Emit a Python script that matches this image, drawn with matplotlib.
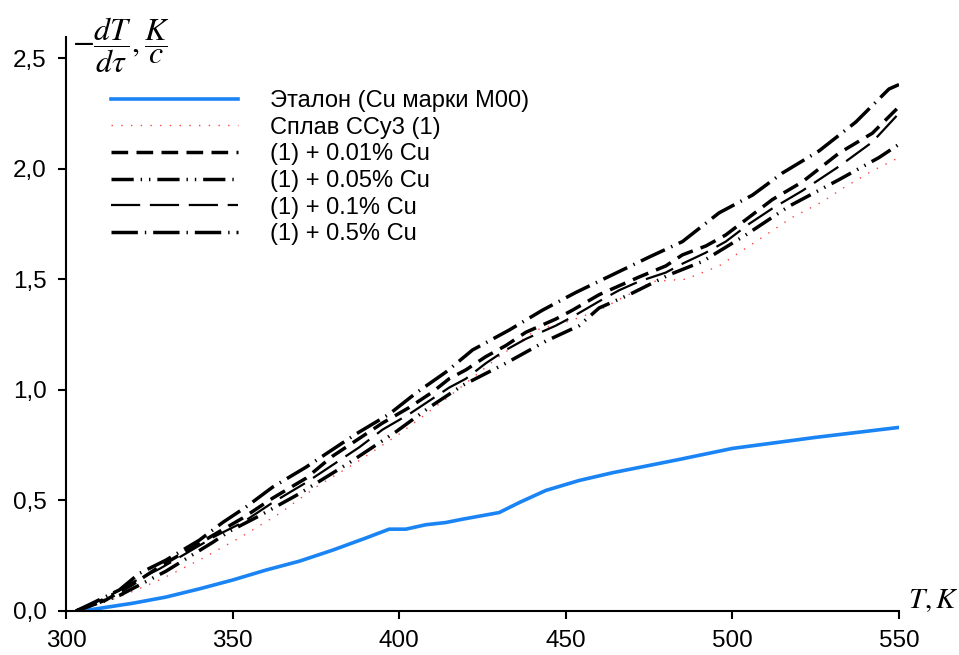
import numpy as np
import matplotlib
matplotlib.use("Agg")
import matplotlib.pyplot as plt

plt.rcParams['font.family'] = ['Liberation Sans', 'DejaVu Sans']
plt.rcParams['mathtext.fontset'] = 'stix'
plt.rcParams['lines.scale_dashes'] = False

# Эталон (Cu марки M00)
T_ref = [305, 310, 320, 330, 340, 350, 360, 370, 380, 390, 397, 402, 408, 414, 419,
         430, 436, 444, 454, 464, 474, 484, 500, 525, 550]
v_ref = [0.0, 0.012, 0.035, 0.063, 0.10, 0.14, 0.185, 0.225, 0.275, 0.33, 0.37, 0.37,
         0.39, 0.40, 0.415, 0.445, 0.49, 0.545, 0.59, 0.625, 0.655, 0.685, 0.735, 0.785, 0.83]

# Сплав ССу3 (1)
T_alloy = [303, 316, 328, 340, 352, 364, 375, 388, 400, 415, 430, 441, 451, 460, 470,
           476, 486, 496, 506, 512, 518, 527, 533, 542, 550]
v_alloy = [0.0, 0.063, 0.14, 0.23, 0.33, 0.44, 0.56, 0.68, 0.80, 0.97, 1.15, 1.27, 1.31,
           1.36, 1.44, 1.49, 1.50, 1.56, 1.66, 1.72, 1.78, 1.85, 1.91, 1.99, 2.05]

# (1) + 0.01% Cu
T_001 = [303, 312, 320, 328, 336, 345, 353, 362, 372, 380, 388, 395, 403, 410, 415, 420,
         426, 432, 438, 447, 452, 460, 466, 472, 480, 485, 492, 498, 505, 512, 521, 532,
         542, 550]
v_001 = [0.0, 0.05, 0.12, 0.20, 0.27, 0.35, 0.42, 0.51, 0.60, 0.70, 0.78, 0.85, 0.92,
         0.99, 1.05, 1.09, 1.15, 1.20, 1.26, 1.32, 1.36, 1.43, 1.47, 1.51, 1.56, 1.61,
         1.65, 1.70, 1.78, 1.86, 1.94, 2.07, 2.16, 2.28]

# (1) + 0.05% Cu
T_005 = [303, 316, 330, 344, 349, 358, 370, 385, 399, 409, 419, 432, 444, 454, 460, 469,
         481, 491, 504, 517, 532, 544, 550]
v_005 = [0.0, 0.07, 0.18, 0.31, 0.36, 0.43, 0.53, 0.67, 0.81, 0.92, 1.02, 1.12, 1.22,
         1.29, 1.37, 1.43, 1.52, 1.58, 1.70, 1.83, 1.95, 2.05, 2.11]

# (1) + 0.1% Cu
T_01 = [303, 312, 320, 328, 336, 345, 353, 362, 372, 380, 388, 395, 403, 410, 415, 420,
        426, 432, 438, 447, 452, 460, 466, 472, 480, 485, 492, 498, 505, 512, 521, 532,
        542, 550]
v_01 = [0.0, 0.06, 0.13, 0.19, 0.26, 0.34, 0.40, 0.49, 0.58, 0.66, 0.74, 0.82, 0.89,
        0.96, 1.01, 1.05, 1.12, 1.18, 1.23, 1.29, 1.33, 1.40, 1.45, 1.49, 1.53, 1.57,
        1.62, 1.67, 1.75, 1.82, 1.90, 2.01, 2.12, 2.25]

# (1) + 0.5% Cu
T_05 = [303, 308, 316, 322, 330, 340, 347, 354, 362, 372, 387, 397, 405, 414, 422, 433,
        443, 453, 464, 475, 485, 496, 506, 515, 526, 537, 547, 550]
v_05 = [0.0, 0.036, 0.095, 0.17, 0.23, 0.32, 0.40, 0.47, 0.56, 0.65, 0.80, 0.89, 0.985,
        1.08, 1.18, 1.27, 1.36, 1.44, 1.52, 1.60, 1.67, 1.80, 1.88, 1.98, 2.08, 2.21,
        2.36, 2.38]

labels = ["Эталон (Cu марки M00)", "Сплав ССу3 (1)", "(1) + 0.01% Cu",
          "(1) + 0.05% Cu", "(1) + 0.1% Cu", "(1) + 0.5% Cu"]
y_ticks = [0.0, 0.5, 1.0, 1.5, 2.0, 2.5]
y_ticklabels = ["0,0", "0,5", "1,0", "1,5", "2,0", "2,5"]
x_ticks = [300, 350, 400, 450, 500, 550]


def main():
    fig = plt.figure(figsize=(9.59, 6.55), dpi=100)
    ax = fig.add_axes([66/959, 44/655, 833/959, 574/655])

    ax.plot(T_ref, v_ref, color='#1a84f5', lw=2.6, label=labels[0])
    ax.plot(T_alloy, v_alloy, color='#ff4040', lw=1.0, dashes=(1, 6), label=labels[1])
    ax.plot(T_001, v_001, color='black', lw=2.5, dashes=(12, 6), label=labels[2])
    ax.plot(T_005, v_005, color='black', lw=2.5, dashes=(16, 5, 1, 5, 1, 5), label=labels[3])
    ax.plot(T_01, v_01, color='black', lw=1.6, dashes=(21, 7), label=labels[4])
    ax.plot(T_05, v_05, color='black', lw=2.5, dashes=(19, 5, 1, 5), label=labels[5])

    ax.set_xlim(300, 550)
    ax.set_ylim(0, 2.595)
    ax.set_xticks(x_ticks)
    ax.set_yticks(y_ticks)
    ax.set_yticklabels(y_ticklabels)

    for s in ['top', 'right']:
        ax.spines[s].set_visible(False)
    for s in ['left', 'bottom']:
        ax.spines[s].set_linewidth(1.5)
    ax.tick_params(direction='out', length=6, width=1.5, labelsize=17.5, colors='black')
    ax.tick_params(axis='y', pad=8)
    ax.tick_params(axis='x', pad=8)

    ax.text(301.8, 2.56, r'$-\dfrac{dT}{d\tau},\dfrac{K}{c}$', fontsize=23,
            ha='left', va='center')
    ax.text(552.7, 0.05, r'$T,K$', fontsize=21, ha='left', va='center', clip_on=False)

    ax.legend(loc='upper left', bbox_to_anchor=(0.054, 0.908), frameon=False,
              fontsize=17, handlelength=5.4, handletextpad=1.35, labelspacing=0.2,
              borderpad=0, borderaxespad=0)

    fig.savefig('out.png', dpi=100)


if __name__ == "__main__":
    main()
